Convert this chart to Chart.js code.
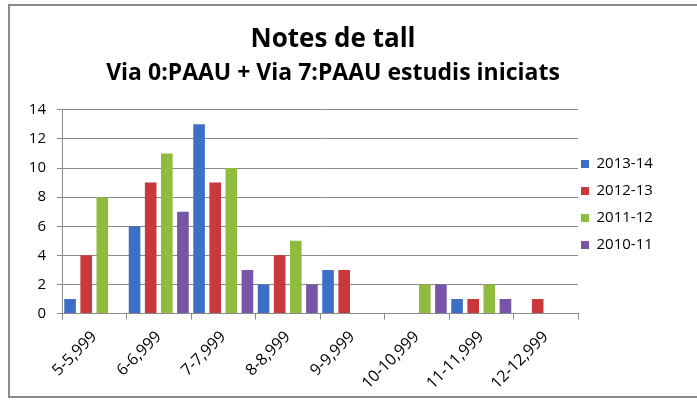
<!DOCTYPE html>
<html>
<head>
  <title>Notes de tall</title>
  <script src="https://cdn.jsdelivr.net/npm/chart.js"></script>
  <style>
    body { margin: 0; background: #fff; }
    #wrap { position: relative; width: 697px; height: 403px; }
    #frame { position: absolute; left: 8px; top: 4px; width: 700px; height: 394px; border: 2px solid #8a8a8a; box-sizing: border-box; }
    canvas { position: absolute; left: 0; top: 0; }
  </style>
</head>
<body>
  <div id="wrap">
    <div id="frame"></div>
    <canvas id="chart" width="697" height="403"></canvas>
  </div>

  <script>
    const categories = ["5-5,999", "6-6,999", "7-7,999", "8-8,999", "9-9,999", "10-10,999", "11-11,999", "12-12,999"];
    const seriesNames = ["2013-14", "2012-13", "2011-12", "2010-11"];
    const s201314 = [1, 6, 13, 2, 3, 0, 1, 0];
    const s201213 = [4, 9, 9, 4, 3, 0, 1, 1];
    const s201112 = [8, 11, 10, 5, 0, 2, 2, 0];
    const s201011 = [0, 7, 3, 2, 0, 2, 1, 0];
    const yTicks = [0, 2, 4, 6, 8, 10, 12, 14];

    const colors = ["#3d6fc4", "#c9393b", "#8fbc3f", "#7656a6"];
    const values = [s201314, s201213, s201112, s201011];
    const font = "'Open Sans', sans-serif";

    // nudge the legend closer to the plot, like the original
    const legendNudge = {
      id: "legendNudge",
      afterLayout(chart) {
        chart.legend.left -= 9;
        chart.legend.right += 40;
        chart.legend.top -= 8;
        chart.legend.bottom -= 8;
      }
    };

    const ctx = document.getElementById("chart").getContext("2d");
    new Chart(ctx, {
      type: "bar",
      data: {
        labels: categories,
        datasets: seriesNames.map((name, i) => ({
          label: name,
          data: values[i],
          backgroundColor: colors[i],
          borderWidth: 0,
          categoryPercentage: 1.0,
          barPercentage: 0.72
        }))
      },
      plugins: [legendNudge],
      options: {
        responsive: false,
        animation: false,
        layout: { padding: { left: 8, right: 39, top: 24, bottom: 2 } },
        plugins: {
          title: {
            display: true,
            text: "Notes de tall",
            color: "#000",
            font: { family: font, size: 26, weight: "bold" },
            padding: { top: 0, bottom: 4 }
          },
          subtitle: {
            display: true,
            text: "Via 0:PAAU + Via 7:PAAU estudis iniciats",
            color: "#000",
            font: { family: font, size: 23, weight: "bold" },
            padding: { top: 0, bottom: 23 }
          },
          legend: {
            position: "right",
            maxWidth: 80,
            labels: {
              boxWidth: 8,
              boxHeight: 8,
              padding: 12,
              color: "#000",
              font: { family: font, size: 15 }
            }
          },
          tooltip: { enabled: false }
        },
        scales: {
          x: {
            grid: { drawOnChartArea: false, drawTicks: true, tickLength: 6, color: "#8a8a8a", offset: true },
            border: { color: "#8a8a8a" },
            ticks: { color: "#000", font: { family: font, size: 16 }, minRotation: 45, maxRotation: 45, padding: 8 }
          },
          y: {
            min: 0,
            max: 14,
            afterBuildTicks: axis => { axis.ticks = yTicks.map(v => ({ value: v })); },
            afterFit: axis => { axis.width = 54; },
            grid: { color: "#8a8a8a", tickLength: 5 },
            border: { color: "#8a8a8a" },
            ticks: { color: "#000", font: { family: font, size: 15 }, padding: 11 }
          }
        }
      }
    });
  </script>
</body>
</html>
